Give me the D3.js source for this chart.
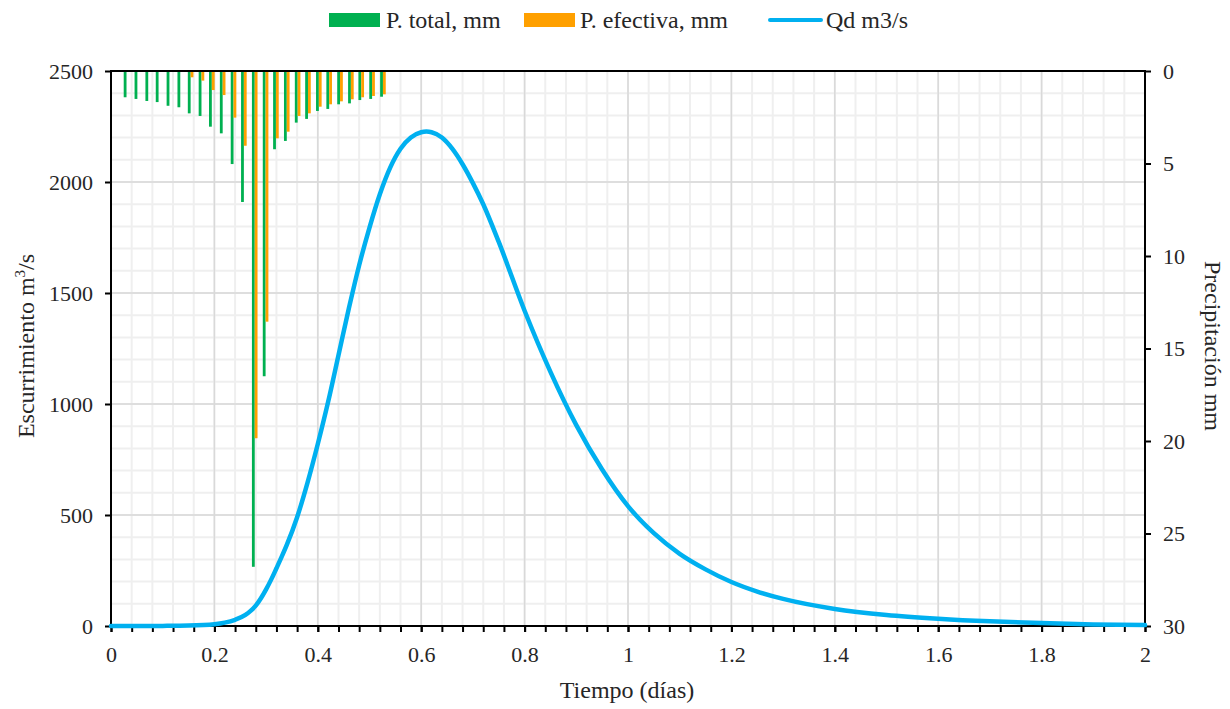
<!DOCTYPE html>
<html>
<head>
<meta charset="utf-8">
<script src="https://cdn.jsdelivr.net/npm/d3@7"></script>
<style>
  html, body { margin: 0; padding: 0; background: #fff; }
  svg { display: block; font-family: "Liberation Serif", "DejaVu Serif", serif; }
</style>
</head>
<body>
<svg id="chart" width="1230" height="709"></svg>
<script>
// ---- data ----
const tiempoP = [0.030, 0.051, 0.072, 0.092, 0.113, 0.134, 0.154, 0.175, 0.195, 0.216,
                 0.237, 0.257, 0.278, 0.299, 0.319, 0.340, 0.361, 0.381, 0.402, 0.422,
                 0.443, 0.464, 0.484, 0.505, 0.526];
const pTotal = [1.42, 1.51, 1.62, 1.68, 1.88, 1.96, 2.29, 2.43, 3.01, 3.37,
                5.03, 7.08, 26.8, 16.5, 4.23, 3.78, 2.79, 2.59, 2.16, 2.05,
                1.80, 1.75, 1.57, 1.51, 1.39];
const pEfectiva = [0, 0, 0, 0, 0, 0.04, 0.34, 0.52, 1.03, 1.30,
                   2.52, 4.04, 19.85, 13.55, 3.64, 3.28, 2.43, 2.29, 1.93, 1.80,
                   1.64, 1.53, 1.42, 1.35, 1.26];
const tiempoQ = [0, 0.05, 0.1, 0.15, 0.2, 0.22, 0.24, 0.26, 0.27, 0.28, 0.29, 0.30, 0.31,
                 0.32, 0.33, 0.34, 0.36, 0.38, 0.40, 0.42, 0.44, 0.46, 0.48, 0.50,
                 0.52, 0.54, 0.56, 0.58, 0.60, 0.61, 0.62, 0.64, 0.66, 0.68,
                 0.70, 0.72, 0.75, 0.80, 0.85, 0.90, 0.95, 1.00, 1.05, 1.10,
                 1.15, 1.20, 1.25, 1.30, 1.40, 1.50, 1.60, 1.70, 1.80, 1.90, 2.00];
const caudal = [0, 0, 0.5, 2, 8, 15, 28, 50, 68, 92, 125, 165, 210,
                260, 311, 365, 490, 645, 820, 1010, 1220, 1430, 1625, 1795,
                1945, 2065, 2150, 2200, 2224, 2227, 2224, 2200, 2150, 2080,
                1995, 1900, 1730, 1420, 1145, 905, 705, 540, 418, 325,
                255, 198, 155, 122, 77, 50, 33, 21, 13, 7, 4];
const xTicks = [0, 0.2, 0.4, 0.6, 0.8, 1, 1.2, 1.4, 1.6, 1.8, 2];
const yQTicks = [0, 500, 1000, 1500, 2000, 2500];
const yPTicks = [0, 5, 10, 15, 20, 25, 30];
const legendLabels = ["P. total, mm", "P. efectiva, mm", "Qd m3/s"];

// ---- layout ----
const L = 111, R = 1145, T = 71, B = 626;
const cGreen = "#00b050", cOrange = "#ffa000", cBlue = "#00b0f0";
const textColor = "#262626";
const serif = '"Liberation Serif", "DejaVu Serif", serif';

const svg = d3.select("#chart");
const x = d3.scaleLinear().domain([0, 2]).range([L, R]);
const yQ = d3.scaleLinear().domain([0, 2500]).range([B, T]);
const yP = d3.scaleLinear().domain([0, 30]).range([T, B]);

// minor tick values derived from the major ones
const xMinor = d3.range(0, 51).map(i => i * 0.04);
const yMinor = d3.range(0, 26).map(i => i * 100);

// ---- grid ----
const grid = svg.append("g");
grid.selectAll(".vmin").data(xMinor).join("line")
  .attr("x1", d => x(d)).attr("x2", d => x(d)).attr("y1", T).attr("y2", B)
  .attr("stroke", "#efefef").attr("stroke-width", 2);
grid.selectAll(".hmin").data(yMinor).join("line")
  .attr("x1", L).attr("x2", R).attr("y1", d => yQ(d)).attr("y2", d => yQ(d))
  .attr("stroke", "#efefef").attr("stroke-width", 2);
grid.selectAll(".vmaj").data(xTicks).join("line")
  .attr("x1", d => x(d)).attr("x2", d => x(d)).attr("y1", T).attr("y2", B)
  .attr("stroke", "#d9d9d9").attr("stroke-width", 1.5);
grid.selectAll(".hmaj").data(yQTicks).join("line")
  .attr("x1", L).attr("x2", R).attr("y1", d => yQ(d)).attr("y2", d => yQ(d))
  .attr("stroke", "#d9d9d9").attr("stroke-width", 1.5);

// ---- bars ----
const bw = 2.8;
const bars = svg.append("g");
bars.selectAll(".pt").data(tiempoP).join("rect")
  .attr("x", d => x(d) - bw).attr("y", yP(0)).attr("width", bw)
  .attr("height", (d, i) => yP(pTotal[i]) - yP(0))
  .attr("fill", cGreen);
bars.selectAll(".pe").data(tiempoP).join("rect")
  .attr("x", d => x(d)).attr("y", yP(0)).attr("width", bw)
  .attr("height", (d, i) => yP(pEfectiva[i]) - yP(0))
  .attr("fill", cOrange);

// ---- axes ----
const fsTick = 22;
function styleAxis(g) {
  g.attr("font-family", serif);
  g.select(".domain").remove();
  g.selectAll(".tick line").attr("stroke", "#000").attr("stroke-width", 2);
  g.selectAll(".tick text").attr("fill", textColor).style("font-size", fsTick + "px")
    .style("font-family", serif);
}
svg.append("g").attr("transform", `translate(${L},0)`)
  .call(d3.axisLeft(yQ).tickValues(yQTicks).tickSize(6).tickPadding(12).tickFormat(d3.format("d")))
  .call(styleAxis);
svg.append("g").attr("transform", `translate(${R},0)`)
  .call(d3.axisRight(yP).tickValues(yPTicks).tickSize(6).tickPadding(12).tickFormat(d3.format("d")))
  .call(styleAxis);
svg.append("g").attr("transform", `translate(0,${B})`)
  .call(d3.axisBottom(x).tickValues(xMinor).tickSize(6).tickFormat(""))
  .call(styleAxis);
svg.append("g").attr("transform", `translate(0,${B})`)
  .call(d3.axisBottom(x).tickValues(xTicks).tickSize(6).tickPadding(14).tickFormat(d => String(+d.toFixed(1))))
  .call(styleAxis);

// frame lines
const frame = svg.append("g").attr("stroke", "#000").attr("stroke-width", 2);
frame.append("line").attr("x1", L).attr("x2", L).attr("y1", T - 1).attr("y2", B + 1);
frame.append("line").attr("x1", R).attr("x2", R).attr("y1", T - 1).attr("y2", B + 1);
frame.append("line").attr("x1", L - 1).attr("x2", R + 1).attr("y1", T).attr("y2", T);
frame.append("line").attr("x1", L - 1).attr("x2", R + 1).attr("y1", B).attr("y2", B);

// ---- hydrograph ----
const line = d3.line().x(d => x(d[0])).y(d => yQ(d[1])).curve(d3.curveMonotoneX);
svg.append("path").datum(tiempoQ.map((t, i) => [t, caudal[i]]))
  .attr("d", line).attr("fill", "none").attr("stroke", cBlue)
  .attr("stroke-width", 4.5).attr("stroke-linecap", "round").attr("stroke-linejoin", "round");

// ---- axis titles ----
const fsTitle = 24;
svg.append("text").attr("x", 627).attr("y", 698).attr("text-anchor", "middle")
  .attr("fill", textColor).style("font-size", fsTitle + "px").text("Tiempo (días)");
const lt = svg.append("text").attr("transform", "translate(34,346) rotate(-90)")
  .attr("text-anchor", "middle").attr("fill", textColor).style("font-size", fsTitle + "px");
lt.append("tspan").text("Escurrimiento m");
lt.append("tspan").attr("dy", -9).style("font-size", "15px").text("3");
lt.append("tspan").attr("dy", 9).text("/s");
svg.append("text").attr("transform", "translate(1205,346) rotate(90)")
  .attr("text-anchor", "middle").attr("fill", textColor).style("font-size", fsTitle + "px")
  .text("Precipitación mm");

// ---- legend ----
const fsLeg = 24;
const leg = svg.append("g");
leg.append("rect").attr("x", 329).attr("y", 13).attr("width", 51).attr("height", 14).attr("fill", cGreen);
leg.append("text").attr("x", 386).attr("y", 28).attr("fill", textColor).style("font-size", fsLeg + "px").text(legendLabels[0]);
leg.append("rect").attr("x", 524).attr("y", 13).attr("width", 51).attr("height", 14).attr("fill", cOrange);
leg.append("text").attr("x", 580).attr("y", 28).attr("fill", textColor).style("font-size", fsLeg + "px").text(legendLabels[1]);
leg.append("line").attr("x1", 770).attr("x2", 821).attr("y1", 20).attr("y2", 20)
  .attr("stroke", cBlue).attr("stroke-width", 4).attr("stroke-linecap", "round");
leg.append("text").attr("x", 826).attr("y", 28).attr("fill", textColor).style("font-size", fsLeg + "px").text(legendLabels[2]);
</script>
</body>
</html>
